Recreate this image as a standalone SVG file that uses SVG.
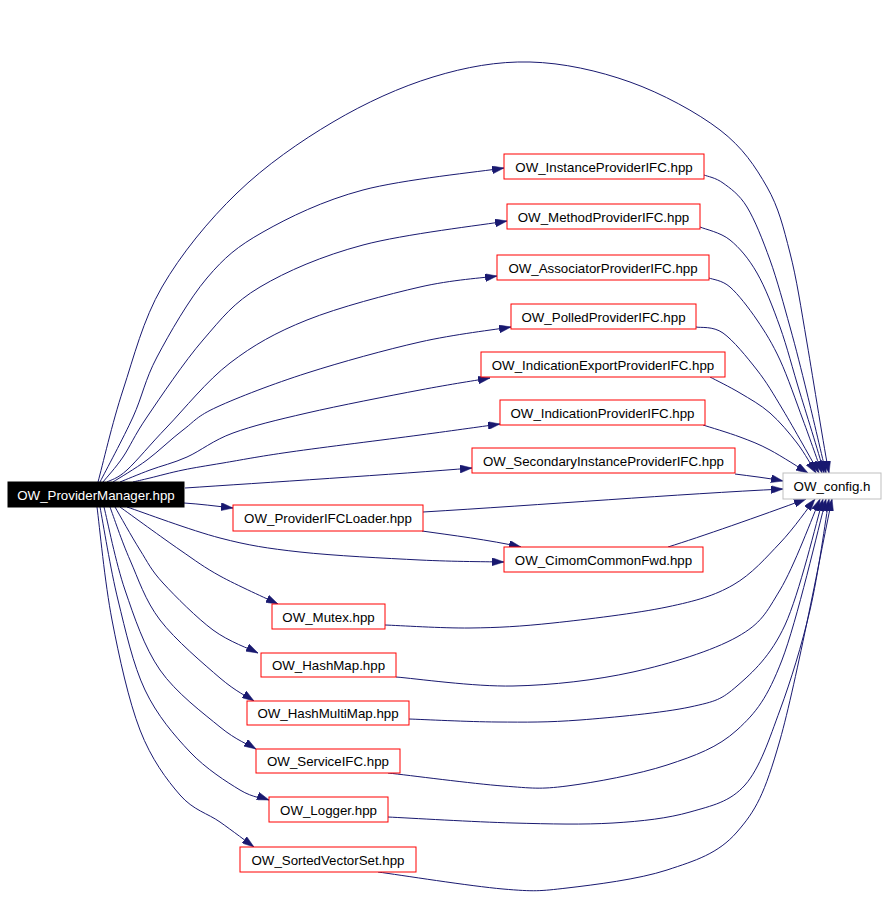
<svg xmlns="http://www.w3.org/2000/svg" width="888" height="921" viewBox="0 0 888 921">
<style>
.e{fill:none;stroke:#191970;stroke-width:1;marker-end:url(#ah)}
.n rect{fill:#ffffff;stroke:#ff0000;stroke-width:1}
.n text{font-family:"Liberation Sans",Arial,sans-serif;font-size:13.3px;fill:#000000;text-anchor:middle}
#n_pm rect{fill:#000000;stroke:#000000}
#n_pm text{fill:#ffffff}
#n_config rect{stroke:#bfbfbf}
</style>
<defs>
<marker id="ah" markerUnits="userSpaceOnUse" markerWidth="12" markerHeight="8" refX="12" refY="4" orient="auto">
<path d="M0,0 L12,4 L0,8 z" fill="#191970" stroke="#191970" stroke-width="0.5"/>
</marker>
</defs>
<rect width="888" height="921" fill="#ffffff"/>
<g id="edges">
<path class="e" d="M98,482 C102.2,466.7 112.3,422.5 123,390 S143,319.8 162,287 S208.5,220.5 237,193 S300.3,141.3 333,122 S400.2,87 433,77 S497.2,61.2 530,62 S598.3,70.7 630,82 S697.2,112.5 720,130 S755.3,166.5 767,187 S783.3,227 790,253 S800.7,306.3 807,343 S824.5,451.3 829,473"/>
<path class="e" d="M100,482 C105.5,471.2 123.5,437.8 133,417 S144.7,380.2 157,357 S189.3,298.8 207,278 S237,246.7 263,232 S322.8,200.7 363,190 S480.5,171.7 504,168"/>
<path class="e" d="M103,482 C106.3,477.8 115.7,467.8 123,457 S133.7,436.5 147,417 S184.2,361.7 203,340 S233.3,302.8 260,287 S321.8,256 363,245 S483,225 507,221"/>
<path class="e" d="M107,482 C110.3,480 117,479.2 127,470 S149.8,444.8 167,427 S206.7,380.8 230,363 S275.3,332.7 307,320 S388.3,294.3 420,287 S484.2,277.8 497,276"/>
<path class="e" d="M113,482 C118.7,478.3 135.3,468.7 147,460 S171.3,438.8 183,430 S196.3,416.5 217,407 S273.2,383.8 307,373 S386,349.7 420,342 S495.8,329.5 511,327"/>
<path class="e" d="M120,482 C125,480 138.8,474.2 150,470 S173.2,463.2 187,457 S213,440.3 233,433 S275.8,420.2 307,413 S389.5,395.8 420,390 S478.3,380 490,378"/>
<path class="e" d="M133,482 C135.8,481.3 141.7,480 150,478 S170.8,472.5 183,470 S205.2,466 223,463 S257.2,456.7 290,452 S385,439.7 420,435 S486.7,425.8 500,424"/>
<path class="e" d="M185,488 C260,483 400,474 472,468"/>
<path class="e" d="M184,503 C200,504 215,506 233,508"/>
<path class="e" d="M127,507 C142.5,512.2 191.2,530.5 220,538 S266.7,548.3 300,552 S386,558.3 420,560 S490,561.7 504,562"/>
<path class="e" d="M120,507 C130,514.2 163.3,538.5 180,550 S203.7,567 220,576 S268.3,599.3 278,604"/>
<path class="e" d="M115,507 C119.2,514.2 132,537.3 140,550 S150.8,569.7 163,583 S197.2,618.3 213,630 S250.5,649.2 258,653"/>
<path class="e" d="M110,507 C113.3,515.8 121.7,541.2 130,560 S145,600.3 160,620 S204.3,664.5 220,678 S248.3,697.2 254,701"/>
<path class="e" d="M104,507 C107.5,520.8 115.7,562.8 125,590 S144.2,647.2 160,670 S204,713.8 220,727 S250,745.3 256,749"/>
<path class="e" d="M100,507 C103,522.5 110.5,569.5 118,600 S133,664.7 145,690 S174.2,735.3 190,752 S226.8,782 240,790 S264.2,798.3 269,800"/>
<path class="e" d="M97,507 C99.5,525.8 104.8,582.8 112,620 S128.7,700.8 140,730 S166.7,779.7 180,795 S207.7,813.3 220,822 S248.3,842.8 254,847"/>
<path class="e" d="M704,175 C707.2,176.3 715.8,177.7 723,183 S739.2,194.2 747,207 S762.8,240 770,260 S783.8,304.8 790,327 S801,368.7 807,393 S822.8,459.7 826,473"/>
<path class="e" d="M700,227 C705,229.2 720.5,232.3 730,240 S748.7,258.5 757,273 S772.8,307 780,327 S792.5,368.7 800,393 S820.8,459.7 824,473"/>
<path class="e" d="M709,278 C712.5,279.5 722,280 730,287 S748.7,307.8 757,320 S772.3,343.3 780,360 S796,401.2 803,420 S818.8,464.2 822,473"/>
<path class="e" d="M696,327 C700.5,328 712.8,325.8 723,333 S747,357.2 757,370 S772.7,392.8 783,410 S813,462.5 819,473"/>
<path class="e" d="M710,377 C715,379.7 730,387 740,393 S760.5,404.7 770,413 S789.3,433 797,443 S812.8,468 816,473"/>
<path class="e" d="M703,425 C709.2,427 728.8,432.8 740,437 S758.7,444 770,450 S801.7,469.2 808,473"/>
<path class="e" d="M735,474 C750,476 768,478 783,481"/>
<path class="e" d="M423,512 C540,505 680,494 783,489"/>
<path class="e" d="M422,531 C450,535 490,540 521,547"/>
<path class="e" d="M668,547 C700,537 760,516 806,499"/>
<path class="e" d="M385,625 C399.2,625.5 442,628.3 470,628 S520.2,626.5 553,623 S637,613.3 667,607 S714.2,595.7 733,585 S766.3,557.3 780,543 S809.2,506.3 815,499"/>
<path class="e" d="M396,677 C415.5,678.5 473.5,686.8 513,686 S595.7,680.2 633,672 S712.5,650.7 737,637 S766.2,612.8 780,590 S813.3,515 820,499"/>
<path class="e" d="M409,719 C423.7,719.5 468.5,721.8 497,722 S547.8,722.5 580,720 S663.8,712.7 690,707 S721.2,699.7 737,686 S770.7,656 785,625 S816.7,520.8 823,499"/>
<path class="e" d="M388,773 C408.8,775.2 473.5,783.8 503,786 S539.7,789.5 567,786 S638.7,774.3 667,765 S717.8,747.5 737,730 S767.2,698.3 782,660 S818.7,526.7 826,499"/>
<path class="e" d="M388,817 C408.8,818 475.5,822 513,823 S583.5,824.8 613,823 S668,818.3 690,812 S730,802 745,785 S769.2,739.2 780,710 S801.8,645 810,610 S825.8,518.3 829,499"/>
<path class="e" d="M378,872 C398.8,874.8 471.5,886.3 503,889 S539.7,891.2 567,888 S638.7,879.3 667,870 S718.2,853.7 737,832 S764.2,795.3 780,740 S823.3,540 832,499"/>
</g>
<g id="n_pm" class="n"><rect x="8" y="482" width="176" height="25"/><text x="96" y="499.5">OW_ProviderManager.hpp</text></g>
<g id="n_instance" class="n"><rect x="504" y="154" width="200" height="25"/><text x="604" y="171.5">OW_InstanceProviderIFC.hpp</text></g>
<g id="n_method" class="n"><rect x="507" y="204" width="193" height="25"/><text x="603.5" y="221.5">OW_MethodProviderIFC.hpp</text></g>
<g id="n_assoc" class="n"><rect x="497" y="255" width="212" height="25"/><text x="603" y="272.5">OW_AssociatorProviderIFC.hpp</text></g>
<g id="n_polled" class="n"><rect x="511" y="304" width="185" height="25"/><text x="603.5" y="321.5">OW_PolledProviderIFC.hpp</text></g>
<g id="n_indexport" class="n"><rect x="481" y="352" width="244" height="25"/><text x="603" y="369.5">OW_IndicationExportProviderIFC.hpp</text></g>
<g id="n_indprov" class="n"><rect x="500" y="400" width="205" height="25"/><text x="602.5" y="417.5">OW_IndicationProviderIFC.hpp</text></g>
<g id="n_secondary" class="n"><rect x="472" y="448" width="263" height="25"/><text x="603.5" y="465.5">OW_SecondaryInstanceProviderIFC.hpp</text></g>
<g id="n_config" class="n"><rect x="783" y="473" width="98" height="26"/><text x="832" y="490.5">OW_config.h</text></g>
<g id="n_loader" class="n"><rect x="233" y="505" width="190" height="26"/><text x="328" y="522.5">OW_ProviderIFCLoader.hpp</text></g>
<g id="n_cimom" class="n"><rect x="504" y="547" width="199" height="25"/><text x="603.5" y="564.5">OW_CimomCommonFwd.hpp</text></g>
<g id="n_mutex" class="n"><rect x="272" y="604" width="113" height="25"/><text x="328.5" y="621.5">OW_Mutex.hpp</text></g>
<g id="n_hashmap" class="n"><rect x="261" y="653" width="135" height="24"/><text x="328.5" y="670">OW_HashMap.hpp</text></g>
<g id="n_hashmultimap" class="n"><rect x="247" y="701" width="162" height="24"/><text x="328" y="718">OW_HashMultiMap.hpp</text></g>
<g id="n_service" class="n"><rect x="256" y="749" width="144" height="24"/><text x="328" y="766">OW_ServiceIFC.hpp</text></g>
<g id="n_logger" class="n"><rect x="269" y="797" width="119" height="25"/><text x="328.5" y="814.5">OW_Logger.hpp</text></g>
<g id="n_sorted" class="n"><rect x="240" y="847" width="176" height="25"/><text x="328" y="864.5">OW_SortedVectorSet.hpp</text></g>
</svg>
